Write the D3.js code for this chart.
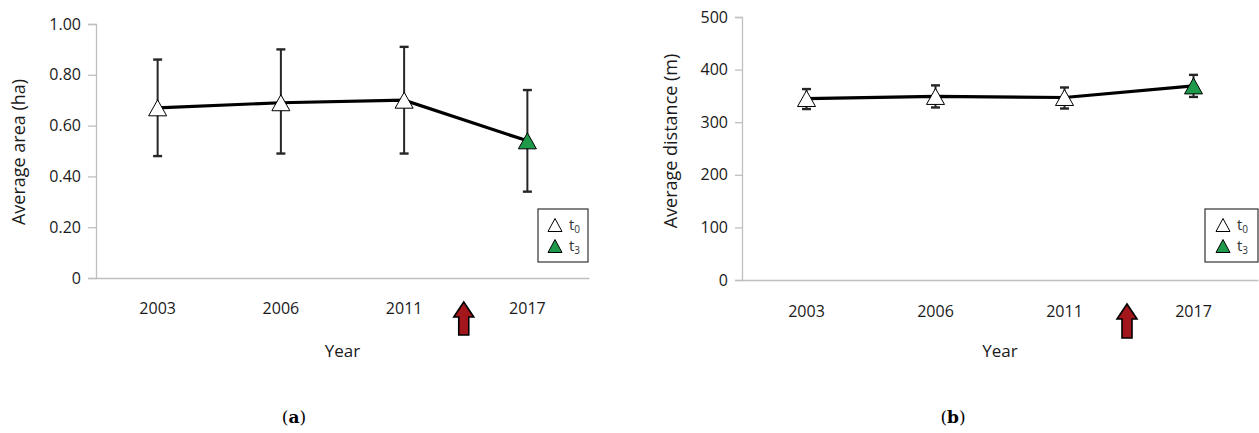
<!DOCTYPE html>
<html>
<head>
<meta charset="utf-8">
<script src="https://cdn.jsdelivr.net/npm/d3@7"></script>
<style>
  html, body { margin: 0; padding: 0; background: #fff; }
  svg { display: block; }
  text { font-family: "Open Sans", "DejaVu Sans", sans-serif; fill: #1a1a1a; }
  text.caption { font-family: "DejaVu Serif", "Liberation Serif", serif; fill: #000; }
</style>
</head>
<body>
<svg id="chart" width="1259" height="433"></svg>
<script>
// ---------- data ----------
const years = ["2003", "2006", "2011", "2017"];
const seriesOfPoint = ["t0", "t0", "t0", "t3"];
const legendSeries = ["t0", "t3"];
const legendSubs = ["0", "3"];

const areaMean  = [0.67, 0.69, 0.70, 0.54];
const areaUpper = [0.86, 0.90, 0.91, 0.74];
const areaLower = [0.48, 0.49, 0.49, 0.34];
const areaTicks = [0, 0.2, 0.4, 0.6, 0.8, 1.0];
const areaTickLabels = ["0", "0.20", "0.40", "0.60", "0.80", "1.00"];

const distMean  = [345, 349, 347, 369];
const distUpper = [363, 370, 366, 390];
const distLower = [325, 328, 326, 348];
const distTicks = [0, 100, 200, 300, 400, 500];
const distTickLabels = ["0", "100", "200", "300", "400", "500"];

const interventionBetween = ["2011", "2017"];

// ---------- drawing ----------
const svg = d3.select("#chart");
const fillOf = { t0: "#ffffff", t3: "#1e9a4a" };

function triPath(w, h) {
  return `M0,${-h / 2}L${w / 2},${h / 2}L${-w / 2},${h / 2}Z`;
}

function panel(cfg) {
  const g = svg.append("g");
  const x = d3.scaleBand().domain(years).range([cfg.x0, cfg.x1]).padding(0);
  const y = d3.scaleLinear().domain(cfg.domain).range([cfg.yBottom, cfg.yTop]);
  const cx = d => x(d) + x.bandwidth() / 2;

  // y axis
  const yAxis = d3.axisLeft(y).tickValues(cfg.ticks)
    .tickFormat((d, i) => cfg.tickLabels[i]).tickSize(cfg.tickLen).tickPadding(7);
  const ya = g.append("g").attr("transform", `translate(${cfg.x0},0)`).call(yAxis);
  ya.attr("font-size", 16);
  ya.select(".domain").attr("stroke", "#bfbfbf").attr("stroke-width", 1.3);
  ya.selectAll(".tick line").attr("stroke", "#bfbfbf").attr("stroke-width", 1.3);
  ya.selectAll(".tick text").attr("font-size", 16).attr("fill", "#1a1a1a");

  // x axis line
  const xAxis = d3.axisBottom(x).tickSize(0).tickPadding(0).tickFormat("");
  const xa = g.append("g").attr("transform", `translate(0,${cfg.yBottom})`).call(xAxis);
  xa.select(".domain").attr("stroke", "#bfbfbf").attr("stroke-width", 1.3);
  xa.selectAll(".tick").remove();

  // x labels
  g.selectAll(".xl").data(years).enter().append("text")
    .attr("x", d => cx(d)).attr("y", cfg.yBottom + cfg.xLabelOff)
    .attr("text-anchor", "middle").attr("font-size", 16).text(d => d);

  // axis titles
  g.append("text").attr("x", (cfg.x0 + cfg.x1) / 2).attr("y", 357)
    .attr("text-anchor", "middle").attr("font-size", 17).text("Year");
  g.append("text")
    .attr("transform", `translate(${cfg.titleX},${cfg.titleY}) rotate(-90)`)
    .attr("text-anchor", "middle").attr("font-size", 18).text(cfg.title);

  // error bars
  const eb = g.append("g").attr("stroke", "#262626").attr("stroke-width", 2);
  years.forEach((yr, i) => {
    eb.append("line").attr("x1", cx(yr)).attr("x2", cx(yr))
      .attr("y1", y(cfg.upper[i])).attr("y2", y(cfg.lower[i]));
    [cfg.upper[i], cfg.lower[i]].forEach(v => {
      eb.append("line").attr("x1", cx(yr) - 4.5).attr("x2", cx(yr) + 4.5)
        .attr("y1", y(v)).attr("y2", y(v)).attr("stroke-width", 2.4);
    });
  });

  // line
  const line = d3.line().x((d, i) => cx(years[i])).y(d => y(d));
  g.append("path").datum(cfg.mean).attr("d", line)
    .attr("fill", "none").attr("stroke", "#000").attr("stroke-width", 3.2);

  // markers
  g.selectAll(".mk").data(cfg.mean).enter().append("path")
    .attr("d", triPath(18, 16))
    .attr("transform", (d, i) => `translate(${cx(years[i])},${y(d)})`)
    .attr("fill", (d, i) => fillOf[seriesOfPoint[i]])
    .attr("stroke", "#000").attr("stroke-width", 1);

  // intervention arrow
  const ax = (cx(interventionBetween[0]) + cx(interventionBetween[1])) / 2 - 2;
  const at = cfg.arrowTop, ab = cfg.arrowBottom;
  g.append("path")
    .attr("d", `M${ax},${at}L${ax + 10},${at + 15}L${ax + 5},${at + 15}L${ax + 5},${ab}` +
               `L${ax - 5},${ab}L${ax - 5},${at + 15}L${ax - 10},${at + 15}Z`)
    .attr("fill", "#a3161c").attr("stroke", "#000").attr("stroke-width", 1.6)
    .attr("stroke-linejoin", "miter");

  // legend
  const lg = g.append("g");
  lg.append("rect").attr("x", cfg.legX).attr("y", 209).attr("width", cfg.legW).attr("height", 53)
    .attr("fill", "#fff").attr("stroke", "#333").attr("stroke-width", 1.2);
  legendSeries.forEach((s, i) => {
    const ly = 225 + i * 21;
    lg.append("path").attr("d", triPath(14, 13))
      .attr("transform", `translate(${cfg.legX + cfg.legTriOff},${ly})`)
      .attr("fill", fillOf[s]).attr("stroke", "#000").attr("stroke-width", 1);
    const t = lg.append("text").attr("x", cfg.legX + cfg.legTextOff).attr("y", ly + 5)
      .attr("font-size", 15).style("fill", "#333");
    t.append("tspan").text("t");
    t.append("tspan").attr("font-size", 10).attr("dy", 3).text(legendSubs[i]);
  });
}

panel({
  x0: 96, x1: 589, yBottom: 278, yTop: 24, domain: [0, 1],
  ticks: areaTicks, tickLabels: areaTickLabels, tickLen: 8,
  mean: areaMean, upper: areaUpper, lower: areaLower,
  xLabelOff: 36, title: "Average area (ha)", titleX: 25, titleY: 152,
  arrowTop: 302, arrowBottom: 335,
  legX: 538, legW: 50, legTriOff: 17, legTextOff: 31
});

panel({
  x0: 742, x1: 1258, yBottom: 280, yTop: 17, domain: [0, 500],
  ticks: distTicks, tickLabels: distTickLabels, tickLen: 7,
  mean: distMean, upper: distUpper, lower: distLower,
  xLabelOff: 37, title: "Average distance (m)", titleX: 677, titleY: 141,
  arrowTop: 304, arrowBottom: 338,
  legX: 1205, legW: 53, legTriOff: 18, legTextOff: 32
});

// panel captions
[["a", 294], ["b", 953]].forEach(([lab, px]) => {
  const t = svg.append("text").attr("class", "caption")
    .attr("x", px).attr("y", 423).attr("text-anchor", "middle")
    .attr("font-size", 17);
  t.append("tspan").text("(");
  t.append("tspan").attr("font-weight", "bold").text(lab);
  t.append("tspan").text(")");
});
</script>
</body>
</html>
